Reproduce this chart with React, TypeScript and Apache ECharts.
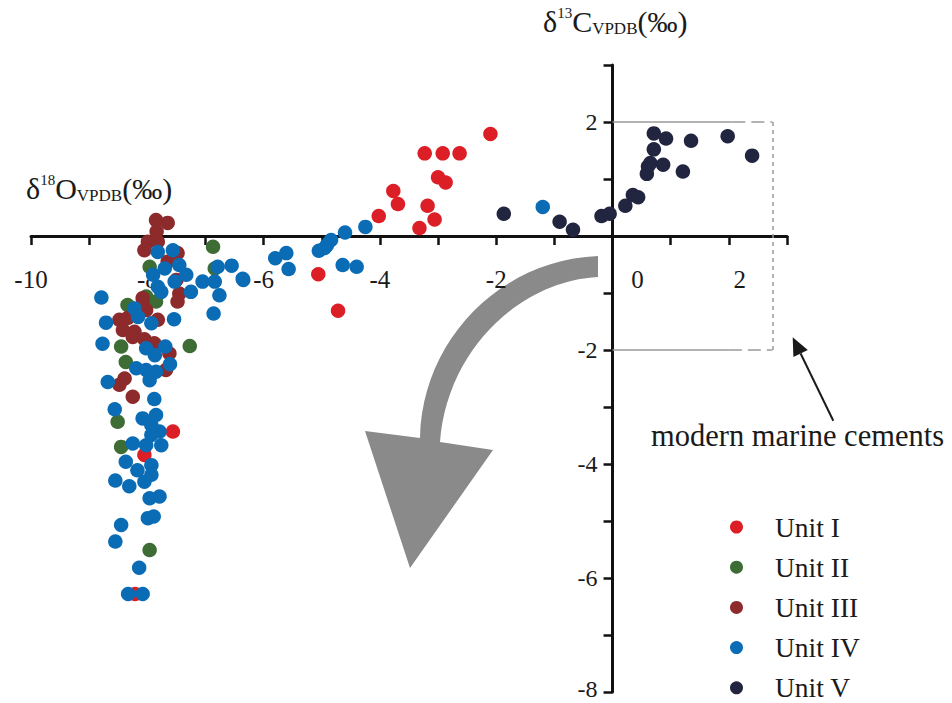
import React, { useEffect, useRef } from 'react';
import * as echarts from 'echarts';

const unitNames = ['Unit I', 'Unit II', 'Unit III', 'Unit IV', 'Unit V'];
const unitColors = ['#dc1f26', '#3d6c34', '#8d2a2c', '#0b6cb6', '#222540'];

// [δ18O, δ13C]
const unit1: number[][] = [
  [-2.10, 1.79], [-3.23, 1.45], [-2.92, 1.45], [-2.63, 1.45], [-3.00, 1.03],
  [-2.87, 0.94], [-3.77, 0.79], [-3.69, 0.56], [-3.18, 0.53], [-4.02, 0.35],
  [-3.06, 0.29], [-3.32, 0.14], [-5.06, -0.67], [-4.72, -1.31], [-7.56, -3.43],
  [-8.05, -3.84], [-8.21, -6.28],
];
const unit2: number[][] = [
  [-6.87, -0.19], [-7.96, -0.54], [-6.84, -0.57], [-8.02, -1.06], [-7.85, -1.15],
  [-8.34, -1.21], [-7.27, -1.93], [-8.45, -1.94], [-8.37, -2.21], [-8.51, -3.26],
  [-8.45, -3.70], [-7.96, -5.51],
];
const unit3: number[][] = [
  [-7.85, 0.28], [-7.65, 0.23], [-7.84, 0.08], [-7.99, -0.10], [-7.82, -0.10],
  [-8.05, -0.25], [-7.48, -0.30], [-7.65, -0.45], [-7.50, -0.77], [-7.45, -1.01],
  [-7.48, -1.15], [-8.08, -1.09], [-8.08, -1.21], [-8.02, -1.30], [-8.48, -1.47],
  [-8.34, -1.44], [-8.42, -1.65], [-8.22, -1.68], [-8.25, -1.77], [-7.82, -1.47],
  [-8.05, -1.81], [-7.88, -1.88], [-7.93, -1.94], [-7.62, -2.06], [-7.68, -2.35],
  [-8.39, -2.50], [-8.48, -2.61], [-8.25, -2.82],
];
const unit4: number[][] = [
  [-1.20, 0.51], [-4.25, 0.16], [-4.60, 0.06], [-4.84, -0.07], [-4.91, -0.16],
  [-5.05, -0.26], [-4.95, -0.21], [-5.61, -0.30], [-5.80, -0.39], [-5.57, -0.58],
  [-4.64, -0.51], [-4.40, -0.54], [-6.35, -0.77],
  [-7.82, -0.28], [-7.56, -0.25], [-7.45, -0.51], [-7.70, -0.57], [-7.90, -0.68],
  [-7.33, -0.68], [-7.53, -0.80], [-7.82, -0.89], [-7.76, -0.98], [-7.25, -0.98],
  [-7.05, -0.80], [-6.79, -0.54], [-6.55, -0.52], [-6.36, -0.75], [-6.84, -0.80],
  [-6.76, -1.04], [-6.86, -1.36], [-7.54, -1.46], [-7.93, -1.53], [-8.22, -1.27],
  [-8.16, -1.42], [-8.79, -1.08], [-8.71, -1.52], [-8.77, -1.89], [-8.02, -1.97],
  [-7.69, -1.94], [-7.87, -2.09], [-7.61, -2.25], [-8.19, -2.32], [-8.02, -2.35],
  [-7.85, -2.38], [-7.96, -2.53], [-8.68, -2.56], [-7.88, -2.86], [-8.56, -3.04],
  [-7.85, -3.14], [-8.08, -3.20], [-7.93, -3.32], [-7.79, -3.43], [-7.93, -3.49],
  [-8.25, -3.64], [-8.02, -3.67], [-7.76, -3.67], [-8.37, -3.96], [-8.17, -4.11],
  [-7.93, -4.02], [-7.93, -4.19], [-8.05, -4.31], [-8.55, -4.29], [-8.31, -4.39],
  [-7.96, -4.60], [-7.79, -4.57], [-7.99, -4.95], [-7.89, -4.92], [-8.45, -5.07],
  [-8.55, -5.36], [-8.14, -5.82], [-8.33, -6.28], [-8.08, -6.28],
];
const unit5: number[][] = [
  [-1.87, 0.39], [-0.91, 0.25], [-0.68, 0.11], [-0.19, 0.35], [-0.05, 0.39],
  [0.22, 0.53], [0.35, 0.72], [0.44, 0.68], [0.59, 1.09], [0.61, 1.22],
  [0.65, 1.28], [0.87, 1.25], [0.71, 1.52], [0.71, 1.80], [0.92, 1.71],
  [1.21, 1.13], [1.35, 1.67], [1.98, 1.75], [2.40, 1.41],
];
const unitData = [unit1, unit2, unit3, unit4, unit5];

const xRange = [-10, 3];
const yRange = [-8, 3];
const xTickLabels = [-10, -8, -6, -4, -2, 0, 2];
const yTickLabels = [2, -2, -4, -6, -8];

// modern marine cements box (δ18O from 0 to 2.75, δ13C from -2 to 2)
const boxX = [0, 2.75];
const boxY = [-2, 2];
const boxSolidEndTop = 2.06;
const boxSolidEndBottom = 2.0;

const FONT = "'Liberation Serif', 'Times New Roman', serif";

const arrowPath =
  'M598 256 L598 277 C520 281 447 350 440 442 L493 450 L410 568 L365 431 L420 438 C422 340 500 260 598 256 Z';

const W = 952;
const H = 703;
const G = { left: 31, right: 165, top: 65, bottom: 11 };

export default function App() {
  const ref = useRef<HTMLDivElement>(null);
  useEffect(() => {
    if (!ref.current) return;
    echarts.graphic.registerShape('curvedArrow', echarts.graphic.extendPath(arrowPath, {}) as any);
    const chart = echarts.init(ref.current, undefined, { renderer: 'svg' });
    const gray = '#9a9a9a';
    const solid = { type: 'solid', color: gray, width: 1.5 };
    const dashedH = { type: [13, 6], color: gray, width: 1.5 };
    const dashedV = { type: [4, 4], color: gray, width: 1.5 };
    const seg = (a: number[], b: number[], ls: any) => [
      { coord: a, lineStyle: ls },
      { coord: b, lineStyle: ls },
    ];

    // position axes so they cross at (0, 0)
    const gw = W - G.left - G.right;
    const gh = H - G.top - G.bottom;
    const x0 = G.left + ((0 - xRange[0]) / (xRange[1] - xRange[0])) * gw;
    const y0 = G.top + ((yRange[1] - 0) / (yRange[1] - yRange[0])) * gh;
    const xOffset = -(H - G.bottom - y0);
    const yOffset = -(x0 - G.left);

    const series: any[] = unitData.map((d, i) => ({
      name: unitNames[i],
      type: 'scatter',
      data: d,
      symbol: 'circle',
      symbolSize: 14.5,
      itemStyle: { color: unitColors[i], opacity: 1 },
      emphasis: { disabled: true },
    }));
    series[4].markLine = {
      silent: true,
      symbol: 'none',
      label: { show: false },
      animation: false,
      data: [
        seg([boxX[0], boxY[1]], [boxSolidEndTop, boxY[1]], solid),
        seg([boxSolidEndTop, boxY[1]], [boxX[1], boxY[1]], dashedH),
        seg([boxX[1], boxY[1]], [boxX[1], boxY[0]], dashedV),
        seg([boxX[0], boxY[0]], [boxSolidEndBottom, boxY[0]], solid),
        seg([boxSolidEndBottom, boxY[0]], [boxX[1], boxY[0]], dashedH),
      ],
    };
    const titleRich = {
      a: { fontSize: 30, fontFamily: FONT, fill: '#1a1a1a', lineHeight: 32 },
      s: { fontSize: 15, fontFamily: FONT, fill: '#1a1a1a', lineHeight: 15, verticalAlign: 'top' },
      b: { fontSize: 17, fontFamily: FONT, fill: '#1a1a1a', lineHeight: 15, verticalAlign: 'bottom' },
    };
    chart.setOption({
      animation: false,
      grid: { ...G, containLabel: false, outerBoundsMode: 'none' },
      xAxis: {
        type: 'value',
        position: 'bottom',
        offset: xOffset,
        min: xRange[0],
        max: xRange[1],
        interval: 1,
        splitLine: { show: false },
        axisLine: { onZero: false, lineStyle: { color: '#111', width: 3 } },
        axisTick: { show: true, length: 9, lineStyle: { color: '#111', width: 2.5 } },
        axisLabel: {
          margin: 31,
          fontSize: 25,
          fontFamily: FONT,
          color: '#1a1a1a',
          showMinLabel: true,
          showMaxLabel: true,
          formatter: (v: number) => {
            if (!xTickLabels.includes(v)) return '';
            if (v === 0) return '{z|0}';
            if (v === 2) return '{t|2}';
            return String(v);
          },
          rich: {
            z: { fontSize: 25, fontFamily: FONT, color: '#1a1a1a', padding: [0, 0, 0, 50] },
            t: { fontSize: 25, fontFamily: FONT, color: '#1a1a1a', padding: [0, 0, 0, 22] },
          },
        },
      },
      yAxis: {
        type: 'value',
        position: 'left',
        offset: yOffset,
        min: yRange[0],
        max: yRange[1],
        interval: 1,
        splitLine: { show: false },
        axisLine: { onZero: false, lineStyle: { color: '#111', width: 3 } },
        axisTick: { show: true, length: 9, lineStyle: { color: '#111', width: 2.5 } },
        axisLabel: {
          margin: 15,
          fontSize: 24,
          fontFamily: FONT,
          color: '#1a1a1a',
          formatter: (v: number) => {
            if (!yTickLabels.includes(v)) return '';
            if (v === yRange[0]) return '{e|' + String(v) + '}';
            return String(v);
          },
          rich: {
            e: { fontSize: 24, fontFamily: FONT, color: '#1a1a1a', padding: [0, 0, 6, 0] },
          },
        },
      },
      legend: {
        data: unitNames,
        orient: 'vertical',
        left: 730,
        top: 513,
        height: 240,
        padding: 0,
        icon: 'circle',
        itemWidth: 13,
        itemHeight: 13,
        itemGap: 12.2,
        selectedMode: false,
        textStyle: {
          fontSize: 27.5,
          fontFamily: FONT,
          color: '#1a1a1a',
          padding: [0, 0, 0, 27],
        },
      },
      graphic: [
        {
          type: 'curvedArrow',
          x: 0,
          y: 0,
          z: -1,
          style: { fill: '#8a8a8a' },
          silent: true,
        },
        {
          type: 'text',
          x: 26,
          y: 172,
          style: { text: '{a|δ}{s|18}{a|O}{b|VPDB}{a|(‰)}', rich: titleRich },
        },
        {
          type: 'text',
          x: 543,
          y: 5,
          style: { text: '{a|δ}{s|13}{a|C}{b|VPDB}{a|(‰)}', rich: titleRich },
        },
        {
          type: 'text',
          x: 651,
          y: 420,
          style: { text: 'modern marine cements', fontSize: 30.5, fontFamily: FONT, fill: '#1a1a1a' },
        },
        {
          type: 'line',
          shape: { x1: 833.3, y1: 420.7, x2: 800.6, y2: 353.5 },
          style: { stroke: '#1a1a1a', lineWidth: 2 },
        },
        {
          type: 'polygon',
          shape: { points: [[792.7, 337.3], [807.8, 350.0], [793.4, 357.0]] },
          style: { fill: '#1a1a1a' },
        },
      ],
      series,
    });
    return () => chart.dispose();
  }, []);
  return (
    <div
      ref={ref}
      style={{ position: 'fixed', left: 0, top: 0, width: W, height: H, background: '#fff' }}
    />
  );
}
